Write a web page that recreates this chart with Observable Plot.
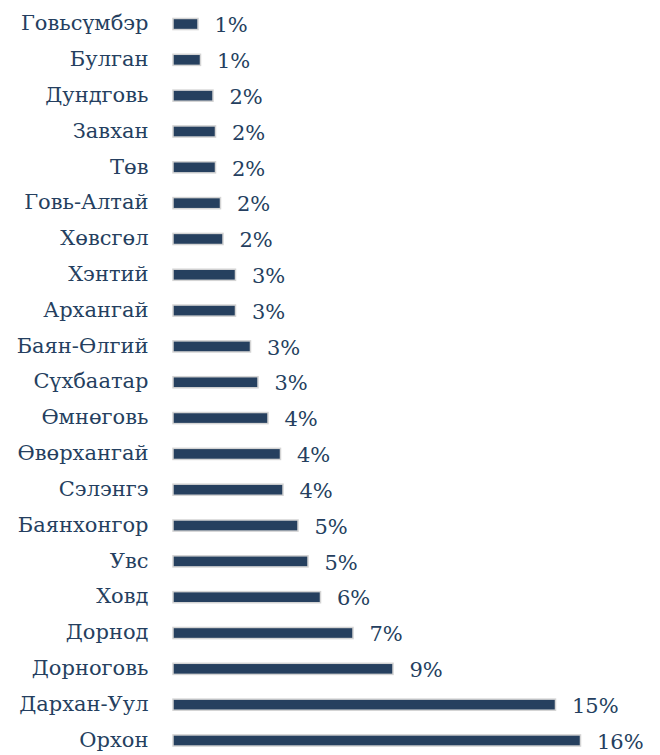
<!DOCTYPE html>
<html>
<head>
<meta charset="utf-8">
<script src="https://cdn.jsdelivr.net/npm/d3@7"></script>
<script src="https://cdn.jsdelivr.net/npm/@observablehq/plot@0.6"></script>
<style>
  html, body { margin: 0; padding: 0; background: #fff; overflow: hidden; }
</style>
</head>
<body>
<div id="chart"></div>
<script>
const provinces = ["Говьсүмбэр","Булган","Дундговь","Завхан","Төв","Говь-Алтай","Хөвсгөл","Хэнтий","Архангай","Баян-Өлгий","Сүхбаатар","Өмнөговь","Өвөрхангай","Сэлэнгэ","Баянхонгор","Увс","Ховд","Дорнод","Дорноговь","Дархан-Уул","Орхон"];
const shares = [1.0,1.1,1.6,1.7,1.7,1.9,2.0,2.5,2.5,3.1,3.4,3.8,4.3,4.4,5.0,5.4,5.9,7.2,8.8,15.3,16.3];
const shareLabels = ["1%","1%","2%","2%","2%","2%","2%","3%","3%","3%","3%","4%","4%","4%","5%","5%","6%","7%","9%","15%","16%"];

const data = provinces.map((p, i) => ({province: p, share: shares[i], label: shareLabels[i]}));

const navy = "#26405f";
const textColor = "#253f60";
const serif = "DejaVu Serif";

const chart = Plot.plot({
  width: 660,
  height: 755,
  marginLeft: 173,
  marginRight: 2,
  marginTop: 0,
  marginBottom: 0,
  style: {background: "#fff", color: textColor},
  x: {domain: [0, 19.4], axis: null},
  y: {type: "band", domain: provinces, range: [6.1, 758.4], round: false, paddingInner: 0.69, paddingOuter: 0.345, label: null, axis: null},
  marks: [
    Plot.barX(data, {y: "province", x: "share", fill: navy, stroke: "#d4d4d4", strokeWidth: 1.5}),
    Plot.text(data, {y: "province", x: "share", text: "label", dx: 16, dy: 1, textAnchor: "start", fill: textColor, fontSize: 21, fontFamily: serif}),
    Plot.text(data, {y: "province", frameAnchor: "left", text: "province", dx: -25, dy: -1, textAnchor: "end", fill: textColor, fontSize: 21, fontFamily: serif})
  ]
});
document.getElementById("chart").append(chart);
</script>
</body>
</html>
